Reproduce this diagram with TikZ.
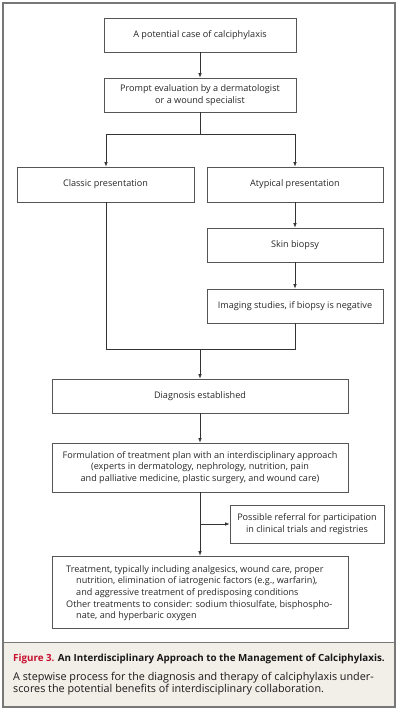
\documentclass[tikz,border=0pt]{standalone}
\usepackage{fontspec}
\setmainfont{Open Sans}
\usetikzlibrary{arrows.meta}
\definecolor{linec}{HTML}{333333}
\definecolor{boxc}{HTML}{555555}
\definecolor{framec}{HTML}{777777}
\definecolor{capbg}{HTML}{F2EFE9}
\definecolor{capred}{HTML}{C8102E}
\tikzset{
  box/.style={draw=boxc, line width=0.7pt, inner sep=0pt, align=center, font=\fontsize{9.1}{11.7}\selectfont, text=black!85},
  conn/.style={draw=linec, line width=0.7pt},
  arr/.style={conn, -{Latex[length=4.5pt,width=3.5pt]}},
  captxt/.style={anchor=base west, inner sep=0pt, text=black!90},
}
\begin{document}
\begin{tikzpicture}[x=1pt,y=-1pt]
\useasboundingbox (0,0) rectangle (400,710);
\fill[capbg] (3,642) rectangle (395,707);
\draw[framec, line width=1.3pt] (3,3) rectangle (395,707);
\draw[framec, line width=1pt] (3,642) -- (395,642);

\node[box, minimum width=192pt, minimum height=34pt] (b1) at (200,35) {A potential case of calciphylaxis};
\node[box, minimum width=192pt, minimum height=34pt] (b2) at (200,95) {Prompt evaluation by a dermatologist\\or a wound specialist};
\node[box, minimum width=177pt, minimum height=35pt] (cl) at (105.5,184.5) {Classic presentation};
\node[box, minimum width=176pt, minimum height=35pt] (at) at (295,184.5) {Atypical presentation};
\node[box, minimum width=176pt, minimum height=34pt] (sk) at (295,245) {Skin biopsy};
\node[box, minimum width=176pt, minimum height=34pt] (im) at (295,306) {Imaging studies, if biopsy is negative};
\node[box, minimum width=296pt, minimum height=34pt] (dg) at (200,396) {Diagnosis established};
\node[box, minimum width=296pt, minimum height=49pt] (fm) at (200,467.5) {Formulation of treatment plan with an interdisciplinary approach\\(experts in dermatology, nephrology, nutrition, pain\\and palliative medicine, plastic surgery, and wound care)};
\node[box, minimum width=154pt, minimum height=38pt] (rf) at (307,524) {Possible referral for participation\\in clinical trials and registries};
\node[box, minimum width=296pt, minimum height=72pt] (tr) at (200,592) {};
\node[anchor=north west, inner sep=0pt, align=left, font=\fontsize{9.1}{11.7}\selectfont, text=black!85] (trt) at (66,565) {Treatment, typically including analgesics, wound care, proper\\
\hspace*{10pt}nutrition, elimination of iatrogenic factors (e.g., warfarin),\\
\hspace*{10pt}and aggressive treatment of predisposing conditions\\
Other treatments to consider: sodium thiosulfate, bisphospho-\\
\hspace*{10pt}nate, and hyperbaric oxygen};

\coordinate (s1) at (200,134);
\coordinate (sl) at (106,134);
\coordinate (sr) at (295,134);
\coordinate (m1) at (200,349);
\coordinate (ml) at (106,349);
\coordinate (mr) at (295,349);
\coordinate (r1) at (200,524);

\draw[arr] (b1) -- (b2);
\draw[conn] (b2.south) -- (s1);
\draw[conn] (sl) -- (sr);
\draw[arr] (sl) -- (sl |- cl.north);
\draw[arr] (sr) -- (at.north);
\draw[arr] (at) -- (sk);
\draw[arr] (sk) -- (im);
\draw[conn] (cl.south -| sl) -- (ml) -- (mr) -- (im.south);
\draw[arr] (m1) -- (dg.north);
\draw[arr] (dg) -- (fm);
\draw[arr] (fm) -- (tr);
\draw[arr] (r1) -- (rf.west);

\node[captxt, font=\fontsize{9.8}{12}\selectfont\bfseries] (cap1) at (13,661) {\textcolor{capred}{Figure 3.} An Interdisciplinary Approach to the Management of Calciphylaxis.};
\node[captxt, font=\fontsize{10.8}{12}\selectfont] (cap2) at (13,680) {A stepwise process for the diagnosis and therapy of calciphylaxis under-};
\node[captxt, font=\fontsize{10.8}{12}\selectfont] (cap3) at (13,692) {scores the potential benefits of interdisciplinary collaboration.};
\end{tikzpicture}
\end{document}
